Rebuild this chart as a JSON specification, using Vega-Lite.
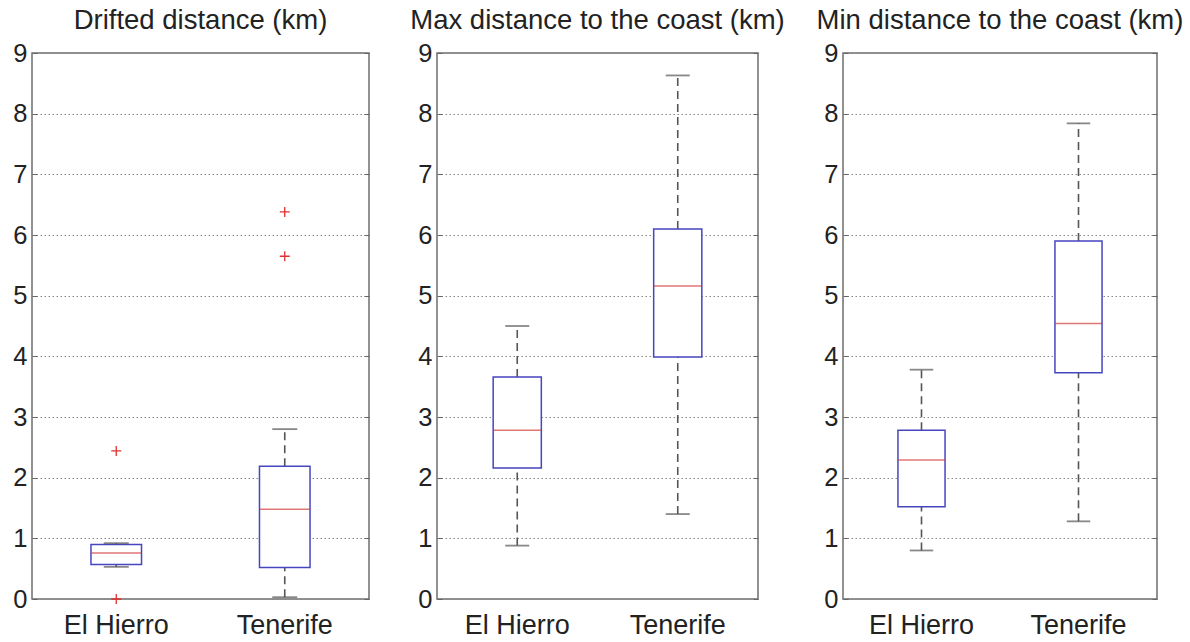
{
  "$schema": "https://vega.github.io/schema/vega-lite/v6.json",
  "padding": {"left": 12, "top": 5, "right": 0, "bottom": 0},
  "background": "white",
  "config": {
    "font": "Liberation Sans",
    "view": {"stroke": "#6e6e6e", "strokeWidth": 1.5},
    "title": {"font": "Liberation Sans", "fontSize": 27.5, "fontWeight": "normal", "color": "#222", "baseline": "alphabetic", "offset": 7},
    "axis": {"labelFont": "Liberation Sans", "labelFontSize": 25.5, "labelColor": "#222"}
  },
  "datasets": {
    "boxes": [
      {"panel": "drift", "site": "El Hierro", "lo": 0.53, "q1": 0.57, "med": 0.76, "q3": 0.90, "hi": 0.92},
      {"panel": "drift", "site": "Tenerife", "lo": 0.03, "q1": 0.52, "med": 1.48, "q3": 2.19, "hi": 2.80},
      {"panel": "max", "site": "El Hierro", "lo": 0.88, "q1": 2.16, "med": 2.78, "q3": 3.66, "hi": 4.50},
      {"panel": "max", "site": "Tenerife", "lo": 1.40, "q1": 3.99, "med": 5.16, "q3": 6.10, "hi": 8.63},
      {"panel": "min", "site": "El Hierro", "lo": 0.80, "q1": 1.52, "med": 2.29, "q3": 2.78, "hi": 3.78},
      {"panel": "min", "site": "Tenerife", "lo": 1.28, "q1": 3.73, "med": 4.54, "q3": 5.90, "hi": 7.84}
    ],
    "outliers": [
      {"panel": "drift", "site": "El Hierro", "value": 0.0},
      {"panel": "drift", "site": "El Hierro", "value": 2.44},
      {"panel": "drift", "site": "Tenerife", "value": 5.65},
      {"panel": "drift", "site": "Tenerife", "value": 6.38}
    ]
  },
  "hconcat": [
    {
      "hconcat": [
        {
          "width": 337, "height": 546,
          "title": "Drifted distance (km)",
          "resolve": {"axis": {"y": "independent"}},
          "layer": [
            {"data": {"name": "boxes"}, "transform": [{"filter": "datum.panel === 'drift'"}],
             "mark": {"type": "rule", "strokeDash": [8, 5], "color": "#555", "strokeWidth": 1.6},
             "encoding": {
               "x": {"field": "site", "type": "nominal", "sort": null, "scale": {"paddingInner": 0, "paddingOuter": 0}, "axis": {"title": null, "labelAngle": 0, "ticks": false, "tickSize": 0, "domain": false, "labelPadding": 13, "labelFontSize": 27}},
               "y": {"field": "lo", "type": "quantitative", "scale": {"domain": [0, 9], "nice": false}, "axis": {"values": [0,1,2,3,4,5,6,7,8,9], "title": null, "grid": true, "gridDash": [1.5, 2.5], "gridColor": "#888", "gridWidth": 1, "domain": false, "tickSize": -5, "tickColor": "#666", "labelPadding": 10}},
               "y2": {"field": "q1"}}},
            {"data": {"name": "boxes"}, "transform": [{"filter": "datum.panel === 'drift'"}],
             "mark": {"type": "rule", "strokeDash": [8, 5], "color": "#555", "strokeWidth": 1.6},
             "encoding": {
               "x": {"field": "site", "type": "nominal", "sort": null},
               "y": {"field": "q3", "type": "quantitative", "axis": {"orient": "right", "values": [0,1,2,3,4,5,6,7,8,9], "title": null, "labels": false, "grid": false, "domain": false, "tickSize": -5, "tickColor": "#666"}},
               "y2": {"field": "hi"}}},
            {"data": {"name": "boxes"}, "transform": [{"filter": "datum.panel === 'drift'"}],
             "mark": {"type": "bar", "width": {"band": 0.3}, "fill": "white", "stroke": "#4646c0", "strokeWidth": 1.5},
             "encoding": {
               "x": {"field": "site", "type": "nominal", "sort": null},
               "y": {"field": "q1", "type": "quantitative", "axis": null},
               "y2": {"field": "q3"}}},
            {"data": {"name": "boxes"}, "transform": [{"filter": "datum.panel === 'drift'"}],
             "mark": {"type": "tick", "orient": "horizontal", "size": 50.5, "thickness": 1.5, "color": "#d43c3c"},
             "encoding": {
               "x": {"field": "site", "type": "nominal", "sort": null},
               "y": {"field": "med", "type": "quantitative", "axis": null}}},
            {"data": {"name": "boxes"}, "transform": [{"filter": "datum.panel === 'drift'"}],
             "mark": {"type": "tick", "orient": "horizontal", "size": 25, "thickness": 1.8, "color": "#555"},
             "encoding": {
               "x": {"field": "site", "type": "nominal", "sort": null},
               "y": {"field": "lo", "type": "quantitative", "axis": null}}},
            {"data": {"name": "boxes"}, "transform": [{"filter": "datum.panel === 'drift'"}],
             "mark": {"type": "tick", "orient": "horizontal", "size": 25, "thickness": 1.8, "color": "#555"},
             "encoding": {
               "x": {"field": "site", "type": "nominal", "sort": null},
               "y": {"field": "hi", "type": "quantitative", "axis": null}}},
            {"data": {"name": "outliers"}, "transform": [{"filter": "datum.panel === 'drift'"}],
             "mark": {"type": "point", "shape": "M-1,0H1M0,-1V1", "size": 100, "filled": false, "stroke": "#e03030", "strokeWidth": 1.3, "opacity": 1},
             "encoding": {
               "x": {"field": "site", "type": "nominal", "sort": null},
               "y": {"field": "value", "type": "quantitative", "axis": null}}}
          ]
        },
        {
          "width": 321, "height": 546,
          "title": "Max distance to the coast (km)",
          "resolve": {"axis": {"y": "independent"}},
          "layer": [
            {"data": {"name": "boxes"}, "transform": [{"filter": "datum.panel === 'max'"}],
             "mark": {"type": "rule", "strokeDash": [8, 5], "color": "#555", "strokeWidth": 1.6},
             "encoding": {
               "x": {"field": "site", "type": "nominal", "sort": null, "scale": {"paddingInner": 0, "paddingOuter": 0}, "axis": {"title": null, "labelAngle": 0, "ticks": false, "tickSize": 0, "domain": false, "labelPadding": 13, "labelFontSize": 27}},
               "y": {"field": "lo", "type": "quantitative", "scale": {"domain": [0, 9], "nice": false}, "axis": {"values": [0,1,2,3,4,5,6,7,8,9], "title": null, "grid": true, "gridDash": [1.5, 2.5], "gridColor": "#888", "gridWidth": 1, "domain": false, "tickSize": -5, "tickColor": "#666", "labelPadding": 10}},
               "y2": {"field": "q1"}}},
            {"data": {"name": "boxes"}, "transform": [{"filter": "datum.panel === 'max'"}],
             "mark": {"type": "rule", "strokeDash": [8, 5], "color": "#555", "strokeWidth": 1.6},
             "encoding": {
               "x": {"field": "site", "type": "nominal", "sort": null},
               "y": {"field": "q3", "type": "quantitative", "axis": {"orient": "right", "values": [0,1,2,3,4,5,6,7,8,9], "title": null, "labels": false, "grid": false, "domain": false, "tickSize": -5, "tickColor": "#666"}},
               "y2": {"field": "hi"}}},
            {"data": {"name": "boxes"}, "transform": [{"filter": "datum.panel === 'max'"}],
             "mark": {"type": "bar", "width": {"band": 0.3}, "fill": "white", "stroke": "#4646c0", "strokeWidth": 1.5},
             "encoding": {
               "x": {"field": "site", "type": "nominal", "sort": null},
               "y": {"field": "q1", "type": "quantitative", "axis": null},
               "y2": {"field": "q3"}}},
            {"data": {"name": "boxes"}, "transform": [{"filter": "datum.panel === 'max'"}],
             "mark": {"type": "tick", "orient": "horizontal", "size": 48, "thickness": 1.5, "color": "#d43c3c"},
             "encoding": {
               "x": {"field": "site", "type": "nominal", "sort": null},
               "y": {"field": "med", "type": "quantitative", "axis": null}}},
            {"data": {"name": "boxes"}, "transform": [{"filter": "datum.panel === 'max'"}],
             "mark": {"type": "tick", "orient": "horizontal", "size": 24, "thickness": 1.8, "color": "#555"},
             "encoding": {
               "x": {"field": "site", "type": "nominal", "sort": null},
               "y": {"field": "lo", "type": "quantitative", "axis": null}}},
            {"data": {"name": "boxes"}, "transform": [{"filter": "datum.panel === 'max'"}],
             "mark": {"type": "tick", "orient": "horizontal", "size": 24, "thickness": 1.8, "color": "#555"},
             "encoding": {
               "x": {"field": "site", "type": "nominal", "sort": null},
               "y": {"field": "hi", "type": "quantitative", "axis": null}}}
          ]
        }
      ],
      "spacing": 68,
      "bounds": "flush"
    },
    {
      "width": 314, "height": 546,
      "title": "Min distance to the coast (km)",
      "resolve": {"axis": {"y": "independent"}},
      "layer": [
        {"data": {"name": "boxes"}, "transform": [{"filter": "datum.panel === 'min'"}],
         "mark": {"type": "rule", "strokeDash": [8, 5], "color": "#555", "strokeWidth": 1.6},
         "encoding": {
           "x": {"field": "site", "type": "nominal", "sort": null, "scale": {"paddingInner": 0, "paddingOuter": 0}, "axis": {"title": null, "labelAngle": 0, "ticks": false, "tickSize": 0, "domain": false, "labelPadding": 13, "labelFontSize": 27}},
           "y": {"field": "lo", "type": "quantitative", "scale": {"domain": [0, 9], "nice": false}, "axis": {"values": [0,1,2,3,4,5,6,7,8,9], "title": null, "grid": true, "gridDash": [1.5, 2.5], "gridColor": "#888", "gridWidth": 1, "domain": false, "tickSize": -5, "tickColor": "#666", "labelPadding": 10}},
           "y2": {"field": "q1"}}},
        {"data": {"name": "boxes"}, "transform": [{"filter": "datum.panel === 'min'"}],
         "mark": {"type": "rule", "strokeDash": [8, 5], "color": "#555", "strokeWidth": 1.6},
         "encoding": {
           "x": {"field": "site", "type": "nominal", "sort": null},
           "y": {"field": "q3", "type": "quantitative", "axis": {"orient": "right", "values": [0,1,2,3,4,5,6,7,8,9], "title": null, "labels": false, "grid": false, "domain": false, "tickSize": -5, "tickColor": "#666"}},
           "y2": {"field": "hi"}}},
        {"data": {"name": "boxes"}, "transform": [{"filter": "datum.panel === 'min'"}],
         "mark": {"type": "bar", "width": {"band": 0.3}, "fill": "white", "stroke": "#4646c0", "strokeWidth": 1.5},
         "encoding": {
           "x": {"field": "site", "type": "nominal", "sort": null},
           "y": {"field": "q1", "type": "quantitative", "axis": null},
           "y2": {"field": "q3"}}},
        {"data": {"name": "boxes"}, "transform": [{"filter": "datum.panel === 'min'"}],
         "mark": {"type": "tick", "orient": "horizontal", "size": 47, "thickness": 1.5, "color": "#d43c3c"},
         "encoding": {
           "x": {"field": "site", "type": "nominal", "sort": null},
           "y": {"field": "med", "type": "quantitative", "axis": null}}},
        {"data": {"name": "boxes"}, "transform": [{"filter": "datum.panel === 'min'"}],
         "mark": {"type": "tick", "orient": "horizontal", "size": 23.5, "thickness": 1.8, "color": "#555"},
         "encoding": {
           "x": {"field": "site", "type": "nominal", "sort": null},
           "y": {"field": "lo", "type": "quantitative", "axis": null}}},
        {"data": {"name": "boxes"}, "transform": [{"filter": "datum.panel === 'min'"}],
         "mark": {"type": "tick", "orient": "horizontal", "size": 23.5, "thickness": 1.8, "color": "#555"},
         "encoding": {
           "x": {"field": "site", "type": "nominal", "sort": null},
           "y": {"field": "hi", "type": "quantitative", "axis": null}}}
      ]
    }
  ],
  "spacing": 29,
  "bounds": "full"
}
